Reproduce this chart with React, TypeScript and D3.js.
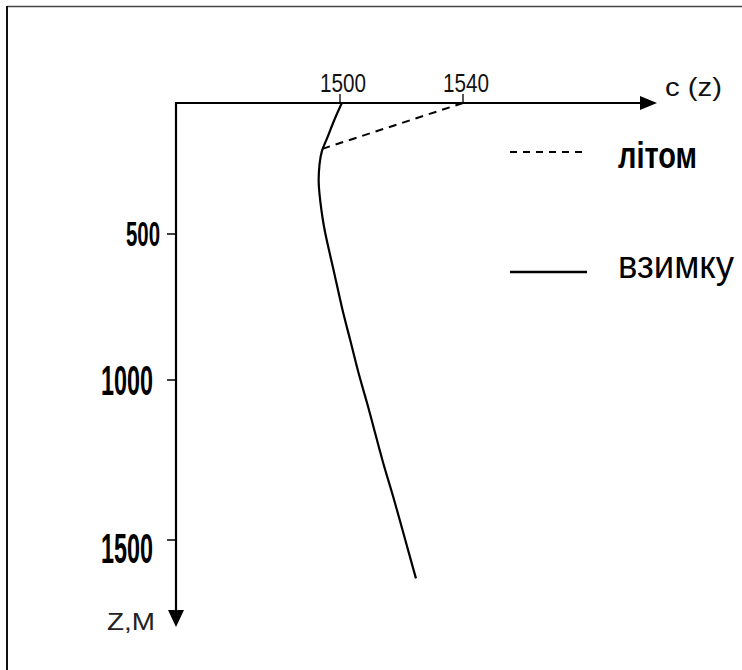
import React from "react";
import * as d3 from "d3";

// Sound-speed profile c(z): depth in metres, speed in m/s
const DEPTH_TICKS = [500, 1000, 1500];
const SPEED_TICKS = [1500, 1540];

const winterDepth = [0, 75, 140, 180, 230, 300, 370, 485, 610, 760, 860, 975, 1070, 1165, 1260, 1350, 1440, 1530, 1620];
const winterSpeed = [1500.6, 1497.7, 1495.7, 1494.0, 1493.3, 1492.9, 1493.5, 1494.8, 1497.7, 1500.7, 1503.3, 1505.9, 1508.8, 1511.4, 1514.0, 1516.9, 1519.5, 1522.1, 1524.7];

const summerDepth = [0, 176];
const summerSpeed = [1540, 1494];

const SERIES_LABELS = ["літом", "взимку"];
const AXIS_X_LABEL = "c (z)";
const AXIS_Y_LABEL = "Z,M";

const W = 742;
const H = 670;
const ORIGIN_X = 176;
const ORIGIN_Y = 103;
const X_END = 657;
const Y_END = 627;

const FONT = "'Liberation Sans', Arial, sans-serif";

// depth axis is hand-spaced, so the scale is piecewise
const y = d3.scaleLinear().domain([0, 500, 1000, 1500]).range([ORIGIN_Y, 234, 380, 540]);
const x = d3.scaleLinear().domain([1500, 1540]).range([340, 463]);

const depthLabelStyle: Record<number, { size: number; len: number; dx: number; dy: number }> = {
  500: { size: 35, len: 34, dx: -16, dy: 12 },
  1000: { size: 42, len: 52, dx: -23, dy: 15 },
  1500: { size: 43, len: 52, dx: -23, dy: 23 },
};

export default function App() {
  const winter = winterDepth.map((d, i) => [winterSpeed[i], d] as [number, number]);
  const summer = summerDepth.map((d, i) => [summerSpeed[i], d] as [number, number]);

  const smooth = d3
    .line<[number, number]>()
    .x((p) => x(p[0]))
    .y((p) => y(p[1]))
    .curve(d3.curveBasis);

  const straight = d3
    .line<[number, number]>()
    .x((p) => x(p[0]))
    .y((p) => y(p[1]));

  return (
    <svg
      width={W}
      height={H}
      viewBox={`0 0 ${W} ${H}`}
      style={{ position: "absolute", left: 0, top: 0, display: "block", background: "#fff" }}
    >
      {/* outer frame */}
      <line x1={7} y1={6.5} x2={W} y2={6.5} stroke="#444" strokeWidth={1.5} />
      <line x1={7} y1={6} x2={7} y2={H} stroke="#111" strokeWidth={2} />

      {/* speed axis */}
      <line x1={ORIGIN_X - 1} y1={ORIGIN_Y} x2={X_END - 14} y2={ORIGIN_Y} stroke="#000" strokeWidth={2.2} />
      <path d={`M${X_END},${ORIGIN_Y} L${X_END - 17},${ORIGIN_Y - 7} L${X_END - 17},${ORIGIN_Y + 7} Z`} fill="#000" />
      <text x={X_END + 8} y={96} fontFamily={FONT} fontSize={25} textLength={57} lengthAdjust="spacingAndGlyphs" fill="#111">
        {AXIS_X_LABEL}
      </text>
      {SPEED_TICKS.map((v) => (
        <g key={v}>
          <line x1={x(v)} y1={ORIGIN_Y - 9} x2={x(v)} y2={ORIGIN_Y} stroke="#000" strokeWidth={1.3} />
          <text
            x={x(v) + 3}
            y={ORIGIN_Y - 11}
            textAnchor="middle"
            fontFamily={FONT}
            fontSize={25}
            textLength={46}
            lengthAdjust="spacingAndGlyphs"
            fill="#111"
          >
            {v}
          </text>
        </g>
      ))}

      {/* depth axis */}
      <line x1={ORIGIN_X} y1={ORIGIN_Y - 1} x2={ORIGIN_X} y2={Y_END - 14} stroke="#000" strokeWidth={2.2} />
      <path d={`M${ORIGIN_X},${Y_END} L${ORIGIN_X - 8},${Y_END - 17} L${ORIGIN_X + 8},${Y_END - 17} Z`} fill="#000" />
      <text x={107} y={630} fontFamily={FONT} fontSize={24} textLength={48} lengthAdjust="spacingAndGlyphs" fill="#222">
        {AXIS_Y_LABEL}
      </text>
      {DEPTH_TICKS.map((v) => {
        const s = depthLabelStyle[v];
        return (
          <g key={v}>
            <line x1={ORIGIN_X - 9} y1={y(v)} x2={ORIGIN_X} y2={y(v)} stroke="#000" strokeWidth={1.5} />
            <text
              x={ORIGIN_X + s.dx}
              y={y(v) + s.dy}
              textAnchor="end"
              fontFamily={FONT}
              fontWeight="bold"
              fontSize={s.size}
              textLength={s.len}
              lengthAdjust="spacingAndGlyphs"
              fill="#000"
            >
              {v}
            </text>
          </g>
        );
      })}

      {/* profiles */}
      <path d={smooth(winter) ?? ""} fill="none" stroke="#000" strokeWidth={2.2} />
      <path d={straight(summer) ?? ""} fill="none" stroke="#000" strokeWidth={2} strokeDasharray="8 6" />

      {/* legend */}
      <line x1={510} y1={152} x2={587} y2={152} stroke="#000" strokeWidth={2} strokeDasharray="7 6" />
      <text x={618} y={168} fontFamily={FONT} fontWeight="bold" fontSize={36} textLength={79} lengthAdjust="spacingAndGlyphs" fill="#000">
        {SERIES_LABELS[0]}
      </text>
      <line x1={510} y1={272} x2={587} y2={272} stroke="#000" strokeWidth={2.5} />
      <text x={618} y={278} fontFamily={FONT} fontSize={38} textLength={116} lengthAdjust="spacingAndGlyphs" fill="#000">
        {SERIES_LABELS[1]}
      </text>
    </svg>
  );
}
